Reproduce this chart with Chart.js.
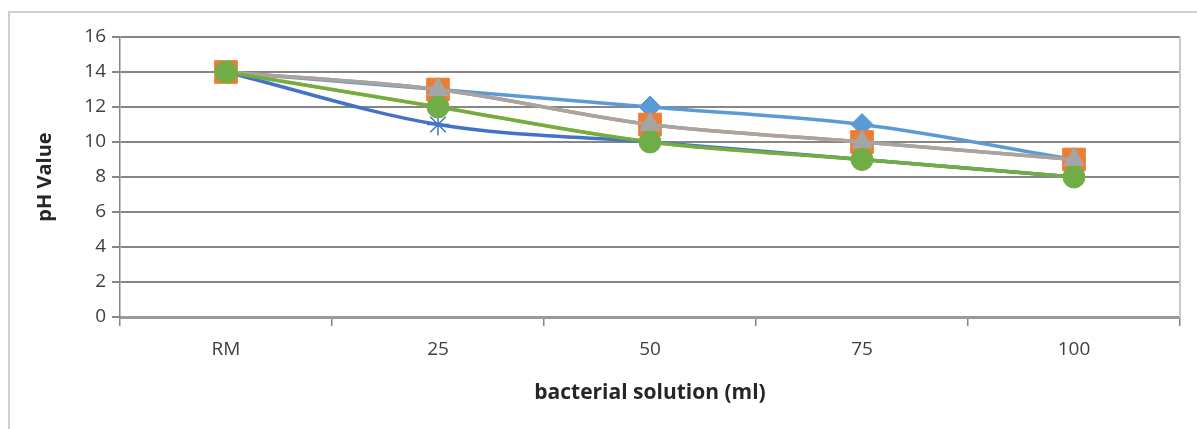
<!DOCTYPE html>
<html>
<head>
<meta charset="utf-8">
<script src="https://cdn.jsdelivr.net/npm/chart.js@4.4.1/dist/chart.umd.min.js"></script>
<style>
  html, body { margin: 0; padding: 0; background: #fff; }
  #wrap { position: relative; width: 1197px; height: 429px; }
  #frame { position: absolute; left: 8px; top: 11px; width: 1187px; height: 430px;
           border-left: 2px solid #d0d0d0; border-top: 2px solid #d0d0d0; }
  canvas { position: absolute; left: 0; top: 0; }
</style>
</head>
<body>
<div id="wrap">
  <div id="frame"></div>
  <canvas id="phChart" width="1197" height="429"></canvas>
</div>
<script>
// values
var categories = ["RM", "25", "50", "75", "100"];
var seriesA = [14, 13, 12, 11, 9];   // light blue, diamond
var seriesB = [14, 13, 11, 10, 9];   // orange, square
var seriesC = [14, 13, 11, 10, 9];   // gray, triangle
var seriesD = [14, 12, 10, 9, 8];    // gold, x
var seriesE = [14, 11, 10, 9, 8];    // dark blue, star
var seriesF = [14, 12, 10, 9, 8];    // green, circle

var fontFam = "'Open Sans', sans-serif";

function line(label, data, color, style, radius, order) {
    return {
        label: label,
        data: data,
        borderColor: color,
        backgroundColor: color,
        pointBackgroundColor: color,
        pointBorderColor: color,
        pointStyle: style,
        pointRadius: radius,
        pointHoverRadius: radius,
        pointBorderWidth: (style === 'star' || style === 'crossRot') ? 1.5 : 1,
        borderWidth: 3.5,
        cubicInterpolationMode: 'monotone',
        fill: false,
        order: order
    };
}

// plot frame on the right side
var plotFrame = {
    id: 'plotFrame',
    afterDatasetsDraw: function(chart) {
        var a = chart.chartArea, ctx = chart.ctx;
        ctx.save();
        ctx.strokeStyle = '#c8c8c8';
        ctx.lineWidth = 2;
        ctx.beginPath();
        ctx.moveTo(a.right, a.top);
        ctx.lineTo(a.right, a.bottom);
        ctx.stroke();
        ctx.restore();
    }
};

var ctx = document.getElementById("phChart");
var phChart = new Chart(ctx, {
    type: 'line',
    data: {
        labels: categories,
        datasets: [
            line("Series1", seriesA, "#5B9BD5", 'rectRot', 11, 6),
            line("Series2", seriesB, "#ED7D31", 'rect', 16, 5),
            line("Series3", seriesC, "#A5A5A5", 'triangle', 12, 4),
            line("Series4", seriesD, "#FFC000", 'crossRot', 11, 3),
            line("Series5", seriesE, "#4472C4", 'star', 11, 2),
            line("Series6", seriesF, "#70AD47", 'circle', 11, 1)
        ]
    },
    options: {
        responsive: false,
        animation: false,
        layout: { padding: { left: 31, top: 37, right: 17, bottom: 20 } },
        plugins: {
            legend: { display: false },
            tooltip: { enabled: false }
        },
        scales: {
            x: {
                offset: true,
                grid: { offset: true, drawOnChartArea: false, drawTicks: true, tickLength: 9,
                        color: '#868686', lineWidth: 1.5 },
                border: { color: '#9a9a9a', width: 3 },
                ticks: { padding: 12, color: '#404040', font: { family: fontFam, size: 19 } },
                title: { display: true, text: 'bacterial solution (ml)', color: '#262626',
                         padding: { top: 4, bottom: 3 },
                         font: { family: fontFam, size: 21, weight: 'bold' } },
                afterFit: function(scale) { scale.height = 92; }
            },
            y: {
                min: 0,
                max: 16,
                ticks: { stepSize: 2, padding: 6, color: '#404040', font: { family: fontFam, size: 19 } },
                grid: { color: '#868686', lineWidth: 2, tickLength: 8 },
                border: { color: '#868686', width: 1.5 },
                title: { display: true, text: 'pH Value', color: '#262626',
                         padding: { top: 2, bottom: 4 },
                         font: { family: fontFam, size: 20, weight: 'bold' } },
                afterFit: function(scale) { scale.width = 89; }
            }
        }
    },
    plugins: [plotFrame]
});
</script>
</body>
</html>
